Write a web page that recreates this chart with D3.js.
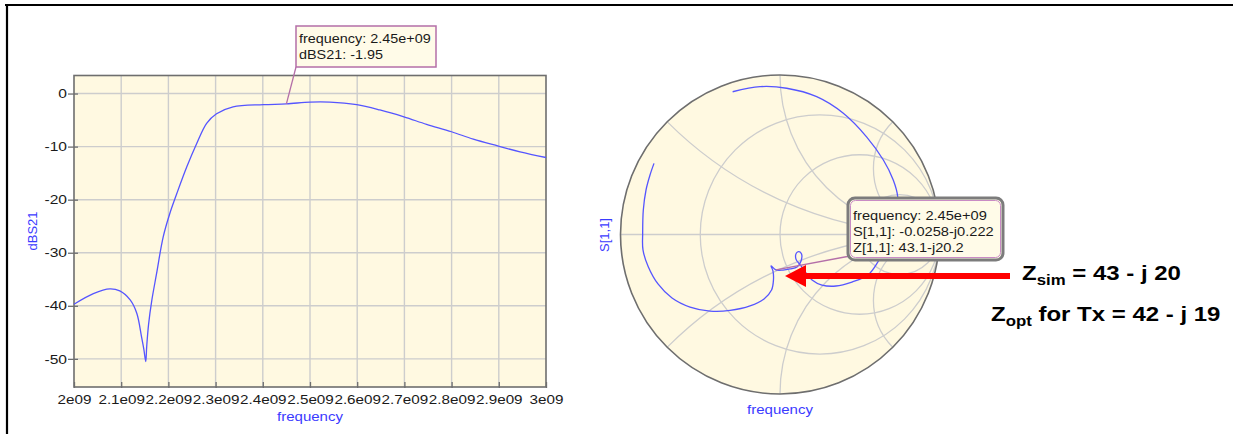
<!DOCTYPE html>
<html><head><meta charset="utf-8">
<script src="https://cdn.jsdelivr.net/npm/d3@7"></script>
<style>
html,body{margin:0;padding:0;background:#fff;}
svg{display:block;font-family:"Liberation Sans",Arial,sans-serif;}
</style></head><body>
<svg id="c" width="1233" height="434"></svg>
<script>
// ---------- data ----------
const freqGHz = [2.0, 2.041, 2.076, 2.097, 2.119, 2.133, 2.143, 2.148, 2.152, 2.154, 2.158, 2.165, 2.175, 2.189, 2.203, 2.218, 2.239, 2.26, 2.281, 2.302, 2.337, 2.401, 2.45, 2.5, 2.542, 2.599, 2.648, 2.699, 2.747, 2.8, 2.846, 2.899, 2.945, 3.0];
const dBS21   = [-39.7, -37.7, -36.8, -37.2, -38.9, -41.4, -45.8, -48.2, -50.5, -47.7, -43.5, -38.9, -33.9, -27.0, -22.6, -18.8, -13.8, -9.4, -5.6, -3.8, -2.5, -2.1, -1.95, -1.6, -1.6, -2.1, -3.1, -4.4, -5.8, -7.2, -8.6, -9.9, -11.0, -12.05];
const freqTicks = [2.0, 2.1, 2.2, 2.3, 2.4, 2.5, 2.6, 2.7, 2.8, 2.9, 3.0];
const freqTickLabels = ["2e09", "2.1e09", "2.2e09", "2.3e09", "2.4e09", "2.5e09", "2.6e09", "2.7e09", "2.8e09", "2.9e09", "3e09"];
const dbTicks = [0, -10, -20, -30, -40, -50];
const dbTickLabels = ["0", "-10", "-20", "-30", "-40", "-50"];
const markerFreq = 2.45, markerDb = -1.95;
const markerTextLeft = ["frequency: 2.45e+09", "dBS21: -1.95"];

const s11Re = [-0.297, -0.125, 0.042, 0.230, 0.397, 0.544, 0.648, 0.710, 0.738, 0.727, 0.683, 0.614, 0.552, 0.451, 0.351, 0.263, 0.201, 0.163, 0.132, 0.100, 0.103, 0.119, 0.135, 0.132, 0.107, 0.063, 0.019, -0.0258, -0.056, -0.044, -0.041, -0.053, -0.100, -0.188, -0.313, -0.439, -0.564, -0.677, -0.765, -0.826, -0.859, -0.861, -0.857, -0.840, -0.815, -0.790];
const s11Im = [0.895, 0.927, 0.917, 0.864, 0.760, 0.611, 0.467, 0.342, 0.237, 0.103, -0.034, -0.172, -0.254, -0.298, -0.323, -0.317, -0.285, -0.241, -0.197, -0.154, -0.116, -0.107, -0.122, -0.166, -0.204, -0.216, -0.223, -0.222, -0.197, -0.229, -0.285, -0.348, -0.404, -0.448, -0.476, -0.480, -0.455, -0.398, -0.310, -0.202, -0.097, 0.008, 0.154, 0.279, 0.373, 0.446];
const markerS11 = [-0.0258, -0.222];
const markerTextSmith = ["frequency: 2.45e+09", "S[1,1]: -0.0258-j0.222", "Z[1,1]: 43.1-j20.2"];
const smithResist = [1/3, 1, 3];
const smithReact = [0.414, 1, 2.414];

// ---------- style ----------
const SX = 1.2;              // horizontal stretch of the original screenshot text
const BG = "#fff9e1", GRID = "#cdcdcd", FRAME = "#6e6e6e";
const TRACE = "#5555ff", LABEL = "#3b3bff", MARK = "#b46fa8";

const svg = d3.select("#c");

// outer frame of screenshot
svg.append("line").attr("x1", 5).attr("x2", 1233).attr("y1", 5).attr("y2", 5).attr("stroke", "#000").attr("stroke-width", 2.2);
svg.append("line").attr("x1", 7).attr("x2", 7).attr("y1", 4).attr("y2", 434).attr("stroke", "#000").attr("stroke-width", 2.2);

function txt(g, x, y, s, o = {}) {
  return g.append("text")
    .attr("transform", `translate(${x},${y}) scale(${o.sx || SX},1)` + (o.rot ? ` rotate(${o.rot})` : ""))
    .attr("text-anchor", o.anchor || "start")
    .attr("font-size", o.size || 12)
    .attr("font-weight", o.weight || "normal")
    .attr("fill", o.fill || "#1a1a1a")
    .text(s);
}

// ---------- left chart ----------
const L = {l: 74, r: 546, t: 75.5, b: 387};
const x = d3.scaleLinear().domain([2.0, 3.0]).range([L.l, L.r]);
const y = d3.scaleLinear().domain([-55.3, 3.4]).range([L.b, L.t]);
const gl = svg.append("g");
gl.append("rect").attr("x", L.l).attr("y", L.t).attr("width", L.r - L.l).attr("height", L.b - L.t).attr("fill", BG);
gl.append("g").selectAll("line").data(freqTicks.slice(1, -1)).join("line")
  .attr("x1", d => x(d)).attr("x2", d => x(d)).attr("y1", L.t).attr("y2", L.b)
  .attr("stroke", GRID).attr("stroke-width", 1.4);
gl.append("g").selectAll("line").data(dbTicks).join("line")
  .attr("x1", L.l).attr("x2", L.r).attr("y1", d => y(d)).attr("y2", d => y(d))
  .attr("stroke", GRID).attr("stroke-width", 1.4);

const xAxis = gl.append("g").attr("transform", `translate(0,${L.b})`)
  .call(d3.axisBottom(x).tickValues(freqTicks).tickFormat((d, i) => freqTickLabels[i]).tickSize(-5).tickPadding(8).tickSizeOuter(0));
xAxis.select(".domain").remove();
xAxis.selectAll("line").attr("stroke", FRAME).attr("stroke-width", 1.3).attr("y2", -5).attr("y1", 1);
xAxis.selectAll("text").attr("font-size", 12.7).attr("fill", "#1a1a1a").attr("font-family", "Liberation Sans, Arial, sans-serif")
  .attr("transform", `scale(${SX},1)`);

const yAxis = gl.append("g").attr("transform", `translate(${L.l},0)`)
  .call(d3.axisLeft(y).tickValues(dbTicks).tickFormat((d, i) => dbTickLabels[i]).tickSize(6).tickPadding(2).tickSizeOuter(0));
yAxis.select(".domain").remove();
yAxis.selectAll("line").attr("stroke", FRAME).attr("stroke-width", 1.3).attr("x1", 4);
yAxis.selectAll("text").attr("font-size", 13).attr("fill", "#1a1a1a").attr("font-family", "Liberation Sans, Arial, sans-serif")
  .attr("x", -7 / SX).attr("transform", `scale(${SX},1)`);

gl.append("rect").attr("x", L.l).attr("y", L.t).attr("width", L.r - L.l).attr("height", L.b - L.t)
  .attr("fill", "none").attr("stroke", FRAME).attr("stroke-width", 1.6);

gl.append("path").datum(freqGHz.map((f, i) => [f, dBS21[i]]))
  .attr("d", d3.line().x(d => x(d[0])).y(d => y(d[1])).curve(d3.curveCatmullRom.alpha(0.5)))
  .attr("fill", "none").attr("stroke", TRACE).attr("stroke-width", 1.3);

txt(gl, 37, 231, "dBS21", {rot: -90, anchor: "middle", fill: LABEL, size: 13, sx: 1});
txt(gl, 310, 421, "frequency", {anchor: "middle", fill: LABEL, size: 12.5});

// marker box (left)
const mx = x(markerFreq), my = y(markerDb);
gl.append("line").attr("x1", mx).attr("y1", my).attr("x2", 296).attr("y2", 67).attr("stroke", MARK).attr("stroke-width", 1.3);
gl.append("rect").attr("x", 296).attr("y", 26).attr("width", 140).attr("height", 41)
  .attr("fill", "#fffbe8").attr("stroke", MARK).attr("stroke-width", 1.5);
markerTextLeft.forEach((s, i) => txt(gl, 299, 42.5 + i * 16.5, s, {size: 12}));

// ---------- Smith chart ----------
const cx = 780, cy = 234.5, R = 159.5;
const sx = d3.scaleLinear().domain([-1, 1]).range([cx - R, cx + R]);
const sy = d3.scaleLinear().domain([-1, 1]).range([cy + R, cy - R]);
const gs = svg.append("g");
gs.append("clipPath").attr("id", "uc").append("circle").attr("cx", cx).attr("cy", cy).attr("r", R);
gs.append("circle").attr("cx", cx).attr("cy", cy).attr("r", R).attr("fill", BG);
const grid = gs.append("g").attr("clip-path", "url(#uc)").attr("fill", "none").attr("stroke", GRID).attr("stroke-width", 1.3);
grid.append("line").attr("x1", sx(-1)).attr("x2", sx(1)).attr("y1", sy(0)).attr("y2", sy(0));
smithResist.forEach(r => {
  grid.append("circle").attr("cx", sx(r / (r + 1))).attr("cy", sy(0)).attr("r", sx(1 / (r + 1)) - sx(0));
});
smithReact.forEach(xv => {
  [1, -1].forEach(sg => grid.append("circle").attr("cx", sx(1)).attr("cy", sy(sg / xv)).attr("r", sx(1 / xv) - sx(0)));
});
gs.append("circle").attr("cx", cx).attr("cy", cy).attr("r", R).attr("fill", "none").attr("stroke", FRAME).attr("stroke-width", 1.6);

gs.append("path").datum(s11Re.map((v, i) => [v, s11Im[i]]))
  .attr("d", d3.line().x(d => sx(d[0])).y(d => sy(d[1])).curve(d3.curveCatmullRom.alpha(0.5)))
  .attr("fill", "none").attr("stroke", TRACE).attr("stroke-width", 1.3);

txt(gs, 609, 235, "S[1,1]", {rot: -90, anchor: "middle", fill: LABEL, size: 13, sx: 1});
txt(gs, 780, 414, "frequency", {anchor: "middle", fill: LABEL, size: 12.5});

// marker (Smith)
const pmx = sx(markerS11[0]), pmy = sy(markerS11[1]);
gs.append("line").attr("x1", pmx).attr("y1", pmy).attr("x2", 850).attr("y2", 256).attr("stroke", MARK).attr("stroke-width", 1.3);
gs.append("rect").attr("x", 848).attr("y", 198).attr("width", 155).attr("height", 62).attr("rx", 7)
  .attr("fill", "#fffbe8").attr("stroke", "#7c7c7c").attr("stroke-width", 3);
gs.append("rect").attr("x", 850.5).attr("y", 200.5).attr("width", 150).attr("height", 57).attr("rx", 5)
  .attr("fill", "none").attr("stroke", "#c98bc4").attr("stroke-width", 1);
markerTextSmith.forEach((s, i) => txt(gs, 853, 219.5 + i * 16.3, s, {size: 12.2}));

// red arrow
gs.append("line").attr("x1", 804).attr("x2", 1010).attr("y1", 276).attr("y2", 276).attr("stroke", "#ff0000").attr("stroke-width", 6);
gs.append("path").attr("d", "M785,276 L806,265 L806,287 Z").attr("fill", "#ff0000");

// annotations
const t1 = txt(gs, 1022, 280, "Z", {size: 20, weight: "bold", fill: "#000"});
t1.append("tspan").attr("font-size", 14).attr("dy", 5).text("sim");
t1.append("tspan").attr("font-size", 20).attr("dy", -5).text(" = 43 - j 20");
const t2 = txt(gs, 991, 321, "Z", {size: 20, weight: "bold", fill: "#000"});
t2.append("tspan").attr("font-size", 14).attr("dy", 5).text("opt");
t2.append("tspan").attr("font-size", 20).attr("dy", -5).text(" for Tx = 42 - j 19");
</script>
</body></html>
